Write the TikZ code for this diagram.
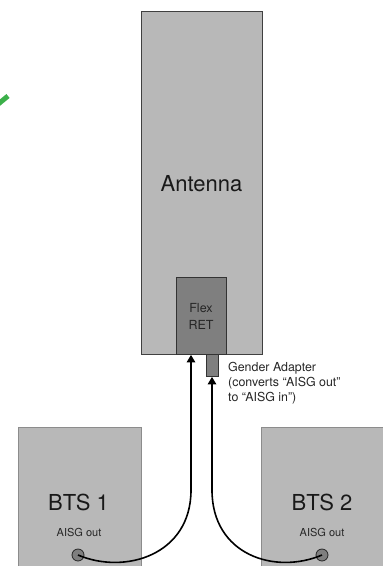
\documentclass[tikz,border=0pt]{standalone}
\usepackage{fontspec}
\setmainfont{TeX Gyre Heros}
\usetikzlibrary{arrows.meta,positioning}
\definecolor{boxgray}{HTML}{B8B8B8}
\definecolor{darkgray}{HTML}{7F7F7F}
\definecolor{slashgreen}{HTML}{3CB04A}
\tikzset{
  x=1pt,y=-1pt,
  box/.style={draw=#1,line width=0.8pt,fill=boxgray,inner sep=0pt},
  inner/.style={draw=black!80,line width=0.9pt,fill=darkgray,inner sep=0pt},
  port/.style={circle,draw=black!85,line width=0.8pt,fill=darkgray,minimum size=12pt,inner sep=0pt},
  big/.style={font=\fontsize{22}{26}\selectfont,text=black!90,inner sep=0pt},
  small/.style={font=\fontsize{11}{13}\selectfont,text=black!85,inner sep=0pt},
  cable/.style={draw=black,line width=1.6pt},
  tipped/.style={cable,-{Triangle[length=7.5pt,width=8.5pt]}}
}
\begin{document}
\begin{tikzpicture}
\useasboundingbox (0,0) rectangle (383,566);
\clip (0,0) rectangle (383,566);
\draw[slashgreen,line width=5pt] (-3,105) -- (8,96);
\node[box=black!75,anchor=north west,minimum width=120.5pt,minimum height=343pt] (antenna) at (141,11) {};
\node[big] (antlabel) at (201.5,184) {Antenna};
\node[inner,anchor=north west,minimum width=50pt,minimum height=77pt] (ret) at (176,277) {};
\node[inner sep=0pt,align=center,text=black!85,font=\fontsize{12.5}{16.5}\selectfont] (retlabel) at (201,316.5) {Flex\\RET};
\node[inner,anchor=north west,minimum width=12pt,minimum height=22pt] (adapter) at (206,354) {};
\node[inner sep=0pt,anchor=north west,align=left,text=black!85,font=\fontsize{12.4}{15}\selectfont] (adlabel) at (228,362.5) {Gender Adapter\\(converts “AISG out”\\to “AISG in”)};
\node[box=black!45,anchor=north west,minimum width=123pt,minimum height=145pt] (bts1) at (18,427) {};
\node[box=black!45,anchor=north west,minimum width=125pt,minimum height=145pt] (bts2) at (261,427) {};
\node[big] (l1) at (78.5,502) {BTS 1};
\node[big] (l2) at (322,502) {BTS 2};
\node[small] (o1) at (79,532) {AISG out};
\node[small] (o2) at (322,532) {AISG out};
\node[port] (p1) at (78,555) {};
\node[port] (p2) at (322,555) {};
\coordinate (a1) at (191,490);
\coordinate (a2) at (212,490);
\draw[cable] (p1.center) .. controls (125,575) and (191,555) .. (a1);
\draw[cable] (p2.center) .. controls (275,575) and (212,555) .. (a2);
\draw[tipped] (a1) -- (ret.south -| a1);
\draw[tipped] (a2) -- (adapter.south -| a2);
\end{tikzpicture}
\end{document}
